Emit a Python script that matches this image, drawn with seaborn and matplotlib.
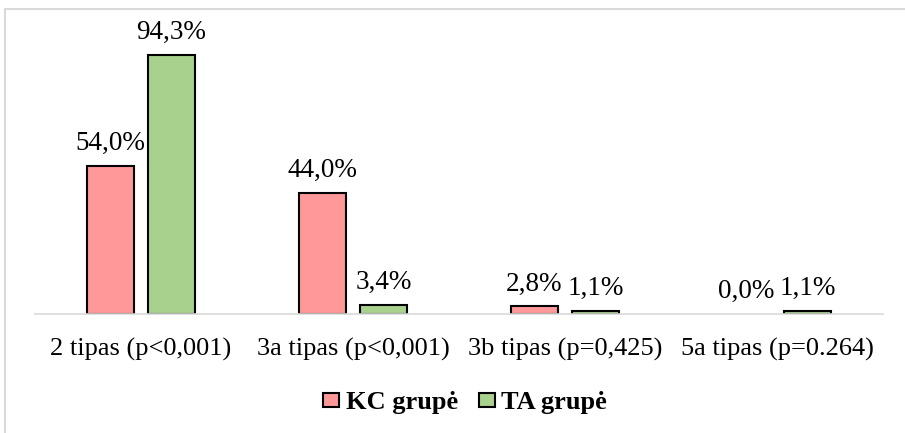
import matplotlib
matplotlib.use("Agg")
import matplotlib.pyplot as plt
import seaborn as sns
import pandas as pd
from matplotlib.patches import Rectangle, Patch

categories = ["2 tipas (p<0,001)", "3a tipas (p<0,001)", "3b tipas (p=0,425)", "5a tipas (p=0.264)"]
groups = ["KC grupė", "TA grupė"]
kc_values = [54.0, 44.0, 2.8, 0.0]
ta_values = [94.3, 3.4, 1.1, 1.1]
colors = ["#FF9999", "#A9D18E"]

df = pd.DataFrame({
    "category": categories * 2,
    "group": [groups[0]] * len(categories) + [groups[1]] * len(categories),
    "value": kc_values + ta_values,
})

sns.set_theme(style="white")
plt.rcParams["font.family"] = ["Liberation Serif", "DejaVu Serif"]
plt.rcParams["text.color"] = "black"

fig = plt.figure(figsize=(9.05, 4.33), dpi=100)
ax = fig.add_axes([35 / 905, 119 / 433, 848 / 905, 275 / 433])

sns.barplot(data=df, x="category", y="value", hue="group", order=categories,
            hue_order=groups, palette=colors, saturation=1, width=0.576, gap=0.23,
            edgecolor="black", linewidth=1.5, ax=ax, legend=False)

# zero-height bars leave no visible outline
for patch in ax.patches:
    if patch.get_height() == 0:
        patch.set_edgecolor("none")

ax.set_ylim(0, 100)
ax.set_xlim(-0.5, len(categories) - 0.5)
ax.set_xlabel("")
ax.set_ylabel("")
ax.set_yticks([])
for side in ["top", "right", "left"]:
    ax.spines[side].set_visible(False)
ax.spines["bottom"].set_color("#D9D9D9")
ax.spines["bottom"].set_linewidth(1.2)
ax.tick_params(axis="x", length=0, pad=17, labelsize=19, colors="black")

for container in ax.containers:
    labels = [f"{v:.1f}%".replace(".", ",") for v in container.datavalues]
    ax.bar_label(container, labels=labels, padding=7, fontsize=19.5, color="black")

handles = [Patch(facecolor=c, edgecolor="black", linewidth=1.5) for c in colors]
fig.legend(handles, groups, loc="center", bbox_to_anchor=(465 / 905, 1 - 403 / 433),
           ncol=2, frameon=False, prop={"weight": "bold", "size": 19},
           labelcolor="black", handlelength=0.6, handleheight=0.42,
           handletextpad=0.25, columnspacing=0.8)

fig.patches.append(Rectangle((5 / 905, -0.1), 1.2, 1.1 - 9 / 433,
                             transform=fig.transFigure, fill=False,
                             edgecolor="#D9D9D9", linewidth=1.5))

fig.savefig("out.png", dpi=100)
